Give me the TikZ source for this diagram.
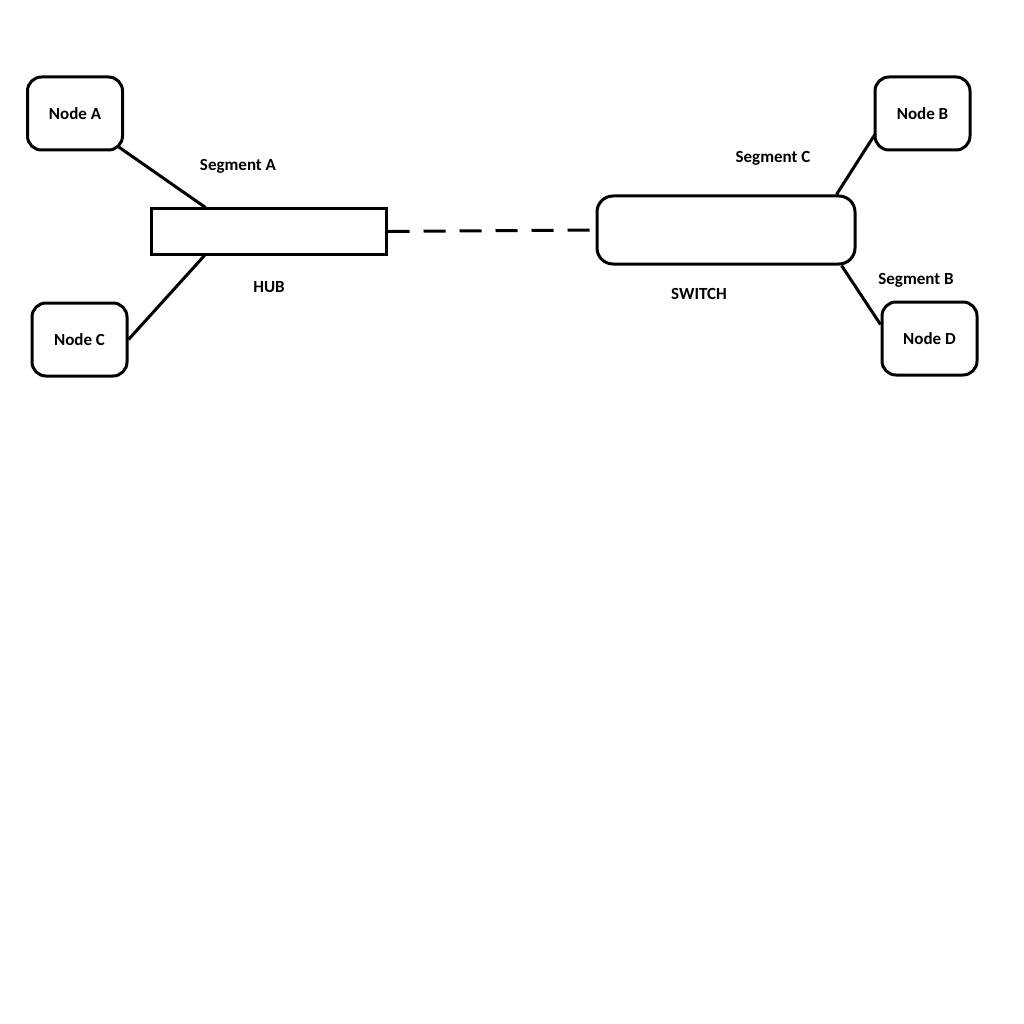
\documentclass[tikz,border=0pt]{standalone}
\usepackage{fontspec}
\setmainfont{Carlito}
\usetikzlibrary{calc}
\begin{document}
\begin{tikzpicture}[x=1pt,y=-1pt,line width=3pt,
  pc/.style={draw,rounded corners=14pt,minimum width=95pt,minimum height=73pt,inner sep=0pt,font=\fontsize{17pt}{19pt}\bfseries},
  lab/.style={font=\fontsize{17pt}{19pt}\bfseries,inner sep=0pt}]
\useasboundingbox (0,0) rectangle (1024,1024);
\node[pc] (na) at (75,113.5) {Node A};
\node[pc] (nc) at (79.5,339.5) {Node C};
\node[pc] (nb) at (922.5,113.5) {Node B};
\node[pc] (nd) at (929.5,338.5) {Node D};
\node[draw,minimum width=235pt,minimum height=45pt,inner sep=0pt] (hub) at (268.5,231.5) {};
\node[draw,rounded corners=16pt,minimum width=258pt,minimum height=68pt,inner sep=0pt] (sw) at (726,230) {};
\draw ($(na.south east)+(-6,-5)$) -- ($(hub.north west)+(56,0)$);
\draw (nc.east) -- ($(hub.south west)+(55,0)$);
\draw ($(nb.south west)+(2,-18)$) -- ($(sw.north east)+(-20,0)$);
\draw ($(nd.west)+(0,-14)$) -- ($(sw.south east)+(-15,0)$);
\draw[dash pattern=on 22pt off 14pt] (hub.east) -- (sw.west);
\node[lab] (la) at (238,166) {Segment A};
\node[lab] (lh) at (269,287) {HUB};
\node[lab] (lc) at (773,158) {Segment C};
\node[lab] (ls) at (699,294) {SWITCH};
\node[lab] (lb) at (916,280) {Segment B};
\end{tikzpicture}
\end{document}
